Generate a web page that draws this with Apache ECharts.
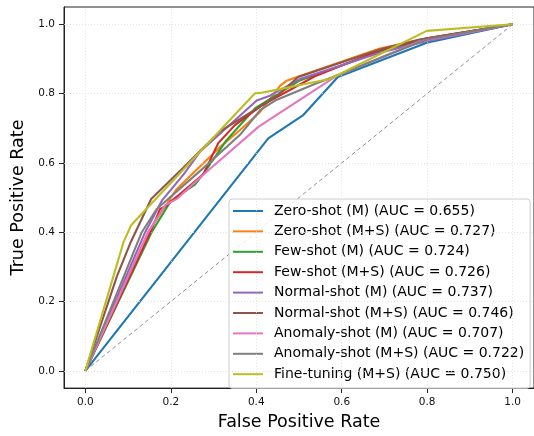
<!DOCTYPE html>
<html>
<head>
<meta charset="utf-8">
<script src="https://cdn.jsdelivr.net/npm/echarts@6/dist/echarts.min.js"></script>
<style>html,body{margin:0;padding:0;background:#fff}#c{width:534px;height:436px}</style>
</head>
<body>
<div id="c"></div>
<script>
// ---- data ----
const tickValues = [0, 0.2, 0.4, 0.6, 0.8, 1.0];
const seriesNames = [
  'Zero-shot (M) (AUC = 0.655)',
  'Zero-shot (M+S) (AUC = 0.727)',
  'Few-shot (M) (AUC = 0.724)',
  'Few-shot (M+S) (AUC = 0.726)',
  'Normal-shot (M) (AUC = 0.737)',
  'Normal-shot (M+S) (AUC = 0.746)',
  'Anomaly-shot (M) (AUC = 0.707)',
  'Anomaly-shot (M+S) (AUC = 0.722)',
  'Fine-tuning (M+S) (AUC = 0.750)'
];
const seriesColors = ['#1f77b4','#ff7f0e','#2ca02c','#d62728','#9467bd','#8c564b','#e377c2','#7f7f7f','#bcbd22'];

const zeroM_fpr = [0, 0.428, 0.509, 0.591, 0.799, 1];
const zeroM_tpr = [0, 0.671, 0.737, 0.848, 0.947, 1];

const zeroMS_fpr = [0, 0.147, 0.214, 0.319, 0.362, 0.409, 0.456, 0.471, 0.502, 0.689, 0.8, 1];
const zeroMS_tpr = [0, 0.40, 0.525, 0.65, 0.695, 0.747, 0.823, 0.837, 0.851, 0.93, 0.96, 1];

const fewM_fpr = [0, 0.155, 0.2, 0.257, 0.28, 0.33, 0.397, 0.5, 0.68, 0.8, 1];
const fewM_tpr = [0, 0.40, 0.49, 0.538, 0.575, 0.665, 0.757, 0.837, 0.917, 0.957, 1];

const fewMS_fpr = [0, 0.152, 0.175, 0.187, 0.276, 0.311, 0.35, 0.413, 0.537, 0.69, 0.8, 1];
const fewMS_tpr = [0, 0.40, 0.467, 0.474, 0.567, 0.657, 0.709, 0.766, 0.85, 0.925, 0.96, 1];

const normalM_fpr = [0, 0.14, 0.179, 0.23, 0.269, 0.401, 0.432, 0.502, 0.689, 0.798, 1];
const normalM_tpr = [0, 0.40, 0.491, 0.567, 0.633, 0.78, 0.794, 0.842, 0.918, 0.951, 1];

const normalMS_fpr = [0, 0.074, 0.105, 0.154, 0.229, 0.315, 0.402, 0.449, 0.498, 0.689, 0.783, 1];
const normalMS_tpr = [0, 0.273, 0.368, 0.496, 0.586, 0.691, 0.757, 0.794, 0.848, 0.927, 0.956, 1];

const anomalyM_fpr = [0, 0.147, 0.187, 0.214, 0.28, 0.405, 0.428, 0.588, 0.783, 1];
const anomalyM_tpr = [0, 0.40, 0.478, 0.496, 0.57, 0.704, 0.723, 0.851, 0.951, 1];

const anomalyMS_fpr = [0, 0.132, 0.167, 0.276, 0.362, 0.409, 0.444, 0.537, 0.596, 0.798, 1];
const anomalyMS_tpr = [0, 0.40, 0.467, 0.585, 0.681, 0.752, 0.78, 0.828, 0.856, 0.956, 1];

const fineMS_fpr = [0, 0.0895, 0.107, 0.397, 0.409, 0.456, 0.502, 0.572, 0.799, 1];
const fineMS_tpr = [0, 0.372, 0.42, 0.801, 0.802, 0.813, 0.825, 0.842, 0.981, 1];

const chanceLine = [0, 1];

// ---- build ----
const curves = [
  [zeroM_fpr, zeroM_tpr], [zeroMS_fpr, zeroMS_tpr], [fewM_fpr, fewM_tpr],
  [fewMS_fpr, fewMS_tpr], [normalM_fpr, normalM_tpr], [normalMS_fpr, normalMS_tpr],
  [anomalyM_fpr, anomalyM_tpr], [anomalyMS_fpr, anomalyMS_tpr], [fineMS_fpr, fineMS_tpr]
];
const zip = (a, b) => a.map((v, i) => [v, b[i]]);
const FONT = 'DejaVu Sans';

const series = [];
series.push({
  type: 'line', name: '_grid', data: [], silent: true, z: 0,
  markLine: {
    silent: true, symbol: 'none', label: {show: false}, animation: false,
    lineStyle: {type: [1, 2], color: '#dcdcdc', width: 0.8},
    data: tickValues.map(v => ({xAxis: v})).concat(tickValues.map(v => ({yAxis: v})))
  }
});
series.push({
  type: 'line', name: '_chance', data: zip(chanceLine, chanceLine), showSymbol: false, silent: true, z: 1,
  lineStyle: {type: [4, 3], color: '#8f8f8f', width: 1}
});
curves.forEach((c, i) => {
  series.push({
    type: 'line', name: seriesNames[i], data: zip(c[0], c[1]), showSymbol: false,
    color: seriesColors[i], lineStyle: {width: 2.1, color: seriesColors[i]}, z: 2 + i
  });
});

const axisCommon = {
  type: 'value', min: -0.05, max: 1.05,
  splitLine: {show: false},
  axisLine: {show: true, onZero: false, lineStyle: {color: '#222', width: 1}},
  axisTick: {show: true, customValues: tickValues, length: 5, lineStyle: {color: '#222', width: 1}},
  nameTextStyle: {fontFamily: FONT, fontSize: 17.5, color: '#000'},
  nameLocation: 'middle'
};

const chart = echarts.init(document.getElementById('c'), null, {renderer: 'canvas'});
chart.setOption({
  animation: false,
  backgroundColor: '#fff',
  grid: {left: 64, right: 0, top: 7, bottom: 42.4, show: true, borderColor: '#222', borderWidth: 1, backgroundColor: 'transparent'},
  xAxis: Object.assign({}, axisCommon, {
    name: 'False Positive Rate', nameGap: 24,
    axisLabel: {customValues: tickValues, formatter: v => v.toFixed(1), fontFamily: FONT, fontSize: 10.5, color: '#111', margin: 9}
  }),
  yAxis: Object.assign({}, axisCommon, {
    name: 'True Positive Rate', nameGap: 32,
    axisLabel: {customValues: tickValues, formatter: v => v.toFixed(1), fontFamily: FONT, fontSize: 10.5, color: '#111', margin: 9}
  }),
  legend: {
    data: seriesNames, orient: 'vertical', left: 229, top: 199,
    padding: [4, 6, 6, 4], itemGap: 4.4, itemWidth: 30, itemHeight: 2, icon: 'rect',
    backgroundColor: 'rgba(255,255,255,0.8)', borderColor: '#cccccc', borderWidth: 1, borderRadius: 3,
    textStyle: {fontFamily: FONT, fontSize: 14, color: '#000', lineHeight: 16, padding: [0, 0, 0, 6]}
  },
  series: series
});
</script>
</body>
</html>
